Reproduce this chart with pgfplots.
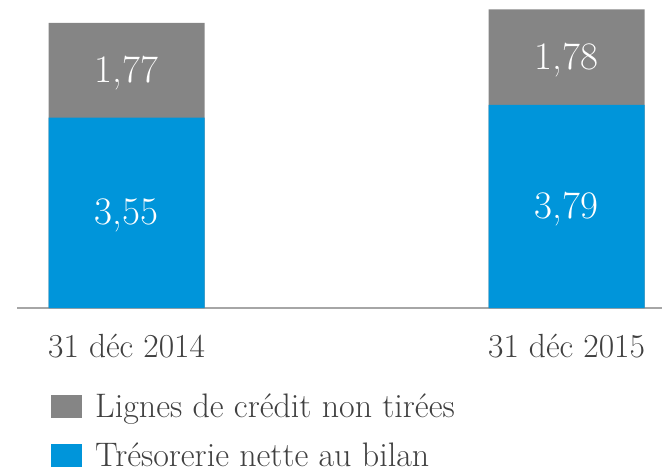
\documentclass[border=0pt]{standalone}
\usepackage{fontspec}
\usepackage{pgfplots}
\usepackage{pgfplotstable}
\pgfplotsset{compat=1.18}
\definecolor{cgray}{HTML}{858585}
\definecolor{cblue}{HTML}{0095DA}
\definecolor{ctext}{HTML}{404040}
\definecolor{caxis}{HTML}{A6A6A6}
\pgfplotstableread{
x blue gray
0 3.55 1.77
1 3.79 1.78
}\data
\begin{document}
\begin{tikzpicture}
\begin{axis}[
 scale only axis, width=645bp, height=308bp,
 xmin=-0.249, xmax=1.217, ymin=0, ymax=5.746,
 axis x line*=bottom, axis y line=none,
 x axis line style={draw=caxis, line width=1.5bp, -},
 xtick={0,1}, xticklabels={31 déc 2014, 31 déc 2015},
 major tick length=0pt,
 xticklabel style={font=\fontsize{33.5bp}{40bp}\selectfont, text=ctext, anchor=base, inner sep=0pt, yshift=-49bp},
 ytick=\empty,
 /pgf/number format/assume math mode=true,
 legend style={at={(rel axis cs:0.0527,-0.279)}, anchor=north west, draw=none, fill=none, inner sep=0pt, row sep=24bp, column sep=13bp, font=\fontsize{34bp}{40bp}\selectfont, text=ctext, nodes={inner sep=0pt}},
 legend cell align=left,
 mybar/.style={ybar, bar shift=0pt, bar width=156bp, draw=none,
   legend image code/.code={\fill[##1] (0bp,-11bp) rectangle (31bp,12bp);}},
 labelplot/.style={sharp plot, draw=none, mark=none, forget plot,
   point meta=explicit,
   nodes near coords={\fontsize{39bp}{46bp}\selectfont\pgfmathprintnumber[fixed, fixed zerofill, precision=2, use comma]{\pgfplotspointmeta}},
   every node near coord/.append style={text=white, anchor=center, inner sep=0pt, yshift=-3bp}},
]
% grey segment: drawn from 0 to blue+gray, then the blue segment over it
\addplot[mybar, fill=cgray] table[x=x, y expr={\thisrow{blue}+\thisrow{gray}}] {\data};
\addlegendentry{Lignes de crédit non tirées}
\addplot[mybar, fill=cblue] table[x=x, y=blue] {\data};
\addlegendentry{Trésorerie nette au bilan}
\addplot[labelplot] table[x=x, y expr={\thisrow{blue}/2}, meta=blue] {\data};
\addplot[labelplot] table[x=x, y expr={\thisrow{blue}+\thisrow{gray}/2}, meta=gray] {\data};
\end{axis}
\pgfresetboundingbox
\path ([xshift=-17bp]current axis.north west) rectangle ([yshift=-167bp]current axis.south east);
\end{tikzpicture}
\end{document}
